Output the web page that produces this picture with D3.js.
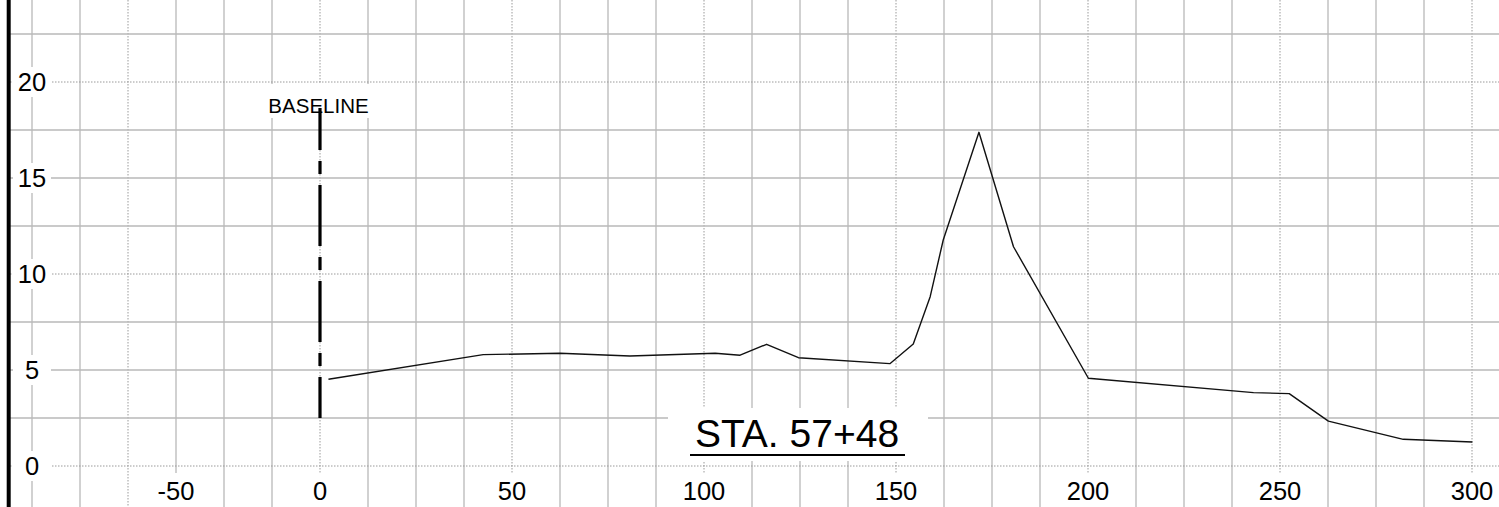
<!DOCTYPE html>
<html>
<head>
<meta charset="utf-8">
<script src="https://cdn.jsdelivr.net/npm/d3@7"></script>
<style>
  html, body { margin: 0; padding: 0; background: #fff; }
  svg { display: block; }
  text { font-family: "Liberation Sans", Arial, sans-serif; fill: #000; }
</style>
</head>
<body>
<svg id="chart" width="1499" height="507"></svg>
<script>
// ---- data ----
const stations   = [2.2, 42.5, 62.5, 80.7, 102.9, 109.4, 116.3, 124.6, 148.4, 154.5, 158.9, 162.3, 171.6, 180.6, 200.1, 243.1, 252.4, 262.6, 282.1, 300.1];
const elevations = [4.52, 5.80, 5.87, 5.73, 5.87, 5.77, 6.34, 5.64, 5.33, 6.35, 8.82, 11.77, 17.38, 11.42, 4.57, 3.82, 3.77, 2.34, 1.39, 1.25];
const xTickValues = [-50, 0, 50, 100, 150, 200, 250, 300];
const yTickValues = [0, 5, 10, 15, 20];
const baselineStation = 0;
const baselineTop = 18.65;
const baselineBottom = 2.5;
const baselineLabel = "BASELINE";
const sectionTitle = "STA. 57+48";

// ---- layout ----
const W = 1499, H = 507;
const svg = d3.select("#chart");
const x = d3.scaleLinear().domain([0, 300]).range([320, 1472]);
const y = d3.scaleLinear().domain([0, 20]).range([466, 82]);

const minorX = d3.range(-75, 300.01, 12.5);
const minorY = d3.range(0, 22.51, 2.5);

const grid = svg.append("g");
// vertical grid
grid.selectAll("line.vx").data(minorX).join("line")
  .attr("x1", d => x(d)).attr("x2", d => x(d))
  .attr("y1", 0).attr("y2", H)
  .attr("stroke", d => d % 50 === 0 ? "#9a9a9a" : "#b8b8b8")
  .attr("stroke-width", d => d % 50 === 0 ? 1 : 1.3)
  .attr("stroke-dasharray", d => d % 50 === 0 ? "1.5,1.5" : null);
// horizontal grid
grid.selectAll("line.hy").data(minorY).join("line")
  .attr("x1", 10).attr("x2", W)
  .attr("y1", d => y(d)).attr("y2", d => y(d))
  .attr("stroke", d => d % 10 === 0 ? "#9a9a9a" : "#b8b8b8")
  .attr("stroke-width", d => d % 10 === 0 ? 1 : 1.3)
  .attr("stroke-dasharray", d => d % 10 === 0 ? "1.5,1.5" : null);

// thick left axis bar
svg.append("line").attr("x1", 8.7).attr("x2", 8.7).attr("y1", 0).attr("y2", H)
  .attr("stroke", "#000").attr("stroke-width", 4);

// y labels
const yLab = svg.append("g");
yTickValues.forEach(v => {
  const cy = y(v);
  yLab.append("rect").attr("x", 13).attr("y", cy - 15).attr("width", 38).attr("height", 30).attr("fill", "#fff");
  yLab.append("text").attr("x", x(-75)).attr("y", cy).attr("dy", "0.35em")
    .attr("text-anchor", "middle").attr("font-size", 25.5).text(v);
});

// x labels
const xLab = svg.append("g");
xTickValues.forEach(v => {
  const px = x(v < 0 ? v + 12.5 : v);
  const t = xLab.append("text").attr("x", px).attr("y", 500)
    .attr("text-anchor", "middle").attr("font-size", 25.5).text(v);
  const bb = t.node().getBBox();
  xLab.insert("rect", "text").attr("x", bb.x - 4).attr("y", 473).attr("width", bb.width + 8).attr("height", H - 473).attr("fill", "#fff");
});

// baseline label
const bl = svg.append("g");
const blText = bl.append("text").attr("x", x(baselineStation) - 1.5).attr("y", 113)
  .attr("text-anchor", "middle").attr("font-size", 20.5).text(baselineLabel);
const blb = blText.node().getBBox();
bl.insert("rect", "text").attr("x", blb.x - 2).attr("y", 84).attr("width", blb.width + 4).attr("height", 34).attr("fill", "#fff");

// baseline dash-dot line
svg.append("line")
  .attr("x1", x(baselineStation)).attr("x2", x(baselineStation))
  .attr("y1", y(baselineTop)).attr("y2", y(baselineBottom))
  .attr("stroke", "#000").attr("stroke-width", 3.2)
  .attr("stroke-dasharray", "61,11,13,11").attr("stroke-dashoffset", 19);

// profile
const line = d3.line().x((d, i) => x(stations[i])).y(d => y(d));
svg.append("path").datum(elevations).attr("d", line)
  .attr("fill", "none").attr("stroke", "#111").attr("stroke-width", 1.4)
  .attr("stroke-linejoin", "round");

// section title
const tg = svg.append("g");
tg.append("rect").attr("x", 668).attr("y", 408).attr("width", 260).attr("height", 53).attr("fill", "#fff");
const tt = tg.append("text").attr("x", 797).attr("y", 447).attr("text-anchor", "middle")
  .attr("font-size", 39).text(sectionTitle);
const tb = tt.node().getBBox();
tg.append("line").attr("x1", 690).attr("x2", 905).attr("y1", 455).attr("y2", 455)
  .attr("stroke", "#000").attr("stroke-width", 2);
</script>
</body>
</html>
